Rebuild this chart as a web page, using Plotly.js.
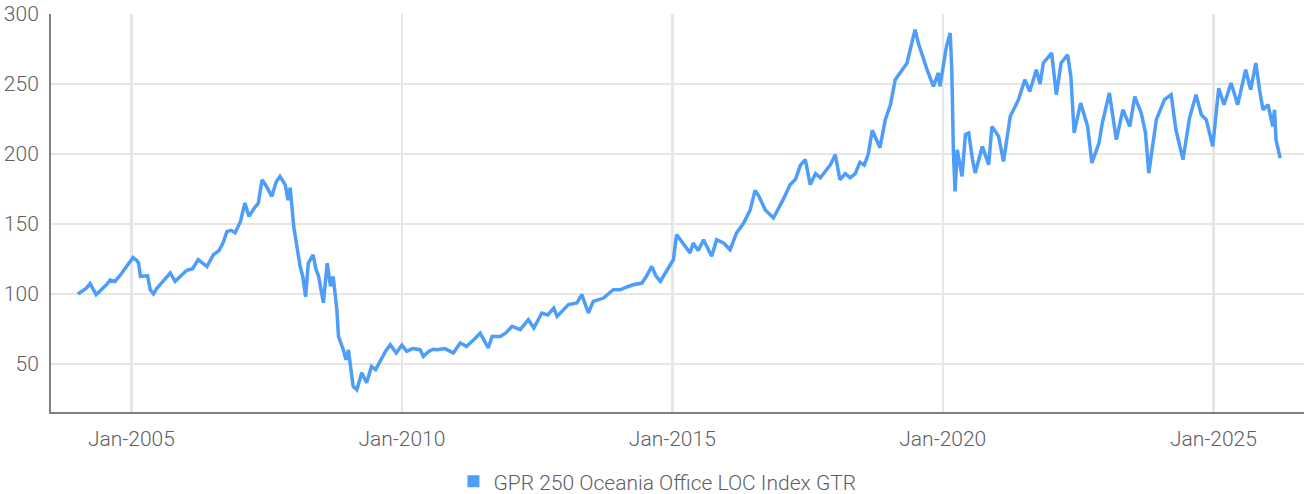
<!DOCTYPE html>
<html>
<head>
<meta charset="utf-8">
<script src="https://cdn.plot.ly/plotly-3.0.1.min.js"></script>
<style>
html,body{margin:0;padding:0;background:#fff;}
#chart{width:1304px;height:494px;}
</style>
</head>
<body>
<div id="chart"></div>
<script>
const seriesName = "GPR 250 Oceania Office LOC Index GTR";
const dates = [
"2004-01-05","2004-02-01","2004-03-01","2004-03-28","2004-04-20","2004-05-08","2004-06-25","2004-07-20","2004-08-10","2004-09-12","2004-10-20","2004-12-05",
"2005-01-12","2005-02-06","2005-02-18","2005-03-03","2005-04-20","2005-05-08","2005-05-30","2005-06-22","2005-07-16","2005-08-18","2005-09-20","2005-10-23","2005-12-01",
"2006-01-10","2006-02-18","2006-03-28","2006-05-26","2006-07-08","2006-08-15","2006-09-12","2006-10-08","2006-11-06","2006-12-02",
"2007-01-08","2007-02-06","2007-03-06","2007-04-08","2007-05-08","2007-06-02","2007-07-01","2007-08-07","2007-09-05","2007-10-01","2007-11-06","2007-11-24","2007-12-09",
"2008-01-02","2008-01-27","2008-02-14","2008-03-04","2008-03-22","2008-04-09","2008-05-12","2008-05-30","2008-06-18","2008-07-20","2008-08-15","2008-09-06","2008-09-24","2008-10-19","2008-10-30","2008-12-02","2008-12-20",
"2009-01-05","2009-02-06","2009-03-03","2009-04-05","2009-05-08","2009-06-10","2009-07-08","2009-08-07","2009-09-12","2009-10-15","2009-11-24",
"2010-01-01","2010-02-03","2010-03-14","2010-05-04","2010-05-26","2010-07-01","2010-07-30","2010-08-25","2010-10-19","2010-12-14",
"2011-01-30","2011-03-14","2011-04-28","2011-06-14","2011-08-07","2011-09-02","2011-10-27","2011-12-02",
"2012-01-15","2012-03-10","2012-05-04","2012-06-10","2012-08-03","2012-09-12","2012-10-23","2012-11-14",
"2013-01-30","2013-03-28","2013-04-30","2013-06-13","2013-07-16","2013-09-24","2013-11-28",
"2014-01-15","2014-02-28","2014-04-12","2014-06-10","2014-07-12","2014-08-15","2014-09-12","2014-10-12","2014-11-24",
"2015-01-08","2015-01-30","2015-03-18","2015-05-01","2015-05-22","2015-06-25","2015-07-31","2015-09-24","2015-10-27","2015-12-13",
"2016-01-26","2016-03-10","2016-04-27","2016-06-10","2016-07-13","2016-08-07","2016-09-20","2016-11-14",
"2017-01-18","2017-03-06","2017-04-12","2017-05-15","2017-06-17","2017-07-20","2017-08-25","2017-09-27","2017-11-02","2017-12-02",
"2018-01-05","2018-02-06","2018-03-14","2018-04-16","2018-05-20","2018-06-21","2018-07-20","2018-08-15","2018-09-12","2018-10-08","2018-11-03","2018-12-09",
"2019-01-12","2019-02-14","2019-03-18","2019-05-05","2019-05-26","2019-06-28","2019-07-20","2019-08-15","2019-09-17","2019-10-30","2019-12-02","2019-12-13",
"2020-01-26","2020-02-20","2020-03-02","2020-03-13","2020-03-24","2020-04-08","2020-05-10","2020-06-02","2020-06-24","2020-07-20","2020-08-07","2020-09-24","2020-11-06","2020-11-28",
"2021-01-12","2021-02-14","2021-04-01","2021-05-26","2021-07-08","2021-08-10","2021-09-24","2021-10-19","2021-11-10",
"2022-01-05","2022-02-06","2022-03-10","2022-04-23","2022-05-15","2022-06-06","2022-07-20","2022-09-05","2022-10-04","2022-11-21","2022-12-13",
"2023-01-30","2023-03-18","2023-05-01","2023-06-17","2023-07-20","2023-09-02","2023-10-01","2023-10-23","2023-11-18","2023-12-13",
"2024-02-06","2024-03-22","2024-04-23","2024-06-10","2024-07-24","2024-09-06","2024-10-12","2024-11-14","2024-12-28",
"2025-02-06","2025-03-14","2025-05-01","2025-06-14","2025-08-07","2025-09-10","2025-10-15","2025-11-10","2025-12-02",
"2026-01-05","2026-02-06","2026-02-18","2026-02-28","2026-03-28"
];
const values = [
100,102,104,107.4,103,99.5,104.5,107,110,109,113.8,120,
126,124,122,112.6,113,103,100,104,106.6,111,115,109,113,
116.9,118,124.5,119.5,128,131,136.6,144.7,145.5,143.8,
152,165,155.4,161,165,181.6,177,169.7,180,184,178,167,176,
148,131.6,119.7,112,98,122,128,118,112.6,93.7,122,105.5,112.6,88.8,69.7,60,53,
60,34,31.6,43.8,36.6,48.3,46,51.9,59,63.8,57.9,
63.5,59,61,60.2,55.4,59,60.5,60.2,61,57.9,
65,62.6,67,72,61.4,69.7,69.7,72,
76.9,74.5,81.6,75.7,86.4,85,90,84,
92.4,93.6,99.5,86.4,94.7,97.1,103,
103,105,106.6,107.8,113,119.7,113,109,116.1,
124.5,142.4,135.2,129.3,136.4,131,138.8,126.9,138.8,136.4,
131.6,143.6,150.7,160.2,174,170,160,154.3,
167.4,178,182,192,196,178,186,183,188,192,
199.5,181.6,186,183,186,194,192,199.5,217,210,204.5,224.5,
235,253,257.9,265,274.5,288.8,279.3,270,260.2,248.3,257.9,248.3,
276.9,286.4,260.2,200.7,173.3,203,184,214,215,196,186.4,205.4,192.4,219.7,
212.6,194.7,226.9,238.8,253,244.7,260.2,250,265,
272.1,242.4,265,270.9,255.4,215,236.4,219.7,193.6,207.9,222,
243.6,210.2,231.6,219.7,241,229.3,215,186.4,208,224.5,
238.8,242.4,217.4,196,225.7,242.4,228,224.5,205.4,
247,235.2,250.7,235.2,260.2,246,265,245,231.6,
235.2,219.7,231.6,210.2,197.1
];
const yTicks = [50,100,150,200,250,300];
const xTickVals = ["2005-01-01","2010-01-01","2015-01-01","2020-01-01","2025-01-01"];
const xTickText = ["Jan-2005","Jan-2010","Jan-2015","Jan-2020","Jan-2025"];

const lineColor = "#4d9df9";
const fontFam = "Roboto, sans-serif";
const textColor = "#606060";
const fsz = 21;

const traces = [
  {x: dates, y: values, type: "scatter", mode: "lines", name: seriesName,
   line: {color: lineColor, width: 3.5}, showlegend: false, hoverinfo: "x+y"},
  {x: [null], y: [null], type: "scatter", mode: "markers", name: seriesName,
   marker: {color: lineColor, symbol: "square", size: 12}, showlegend: true}
];
const layout = {
  width: 1304, height: 494,
  margin: {l: 51, r: 0, t: 14, b: 82, autoexpand: false},
  paper_bgcolor: "#fff", plot_bgcolor: "#fff",
  font: {family: fontFam, size: fsz, color: textColor, weight: 300},
  showlegend: true,
  legend: {orientation: "h", x: 0.484, xanchor: "center", y: -0.175, yanchor: "middle",
           font: {family: fontFam, size: fsz, color: textColor, weight: 300}, itemwidth: 30},
  xaxis: {type: "date", range: ["2003-07-08", "2026-09-05"],
          tickvals: xTickVals, ticktext: xTickText,
          showgrid: true, gridcolor: "#e6e6e6", gridwidth: 2.5,
          showline: true, linecolor: "#808080", linewidth: 2,
          ticks: "", ticklabelstandoff: 7, zeroline: false,
          tickfont: {family: fontFam, size: fsz, color: textColor, weight: 300}},
  yaxis: {range: [15.7, 300], tickvals: yTicks,
          showgrid: true, gridcolor: "#e6e6e6", gridwidth: 2.5,
          showline: true, linecolor: "#808080", linewidth: 2,
          ticks: "", ticklabelstandoff: 6, zeroline: false,
          tickfont: {family: fontFam, size: fsz, color: textColor, weight: 300}}
};
Plotly.newPlot("chart", traces, layout, {displayModeBar: false, staticPlot: true});
</script>
</body>
</html>
